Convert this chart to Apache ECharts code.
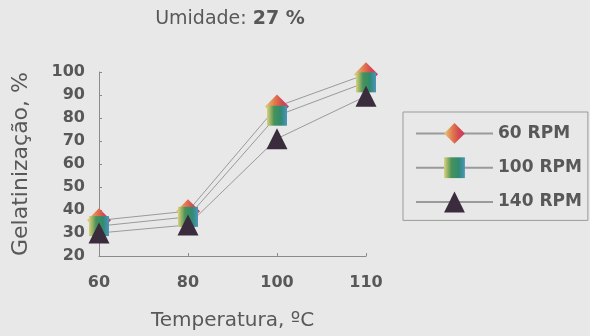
<!DOCTYPE html>
<html>
<head>
<meta charset="utf-8">
<script src="https://cdn.jsdelivr.net/npm/echarts@6/dist/echarts.min.js"></script>
<style>
  html, body { margin: 0; padding: 0; background: #e8e8e8; }
  #chart { width: 590px; height: 336px; }
</style>
</head>
<body>
<div id="chart"></div>
<script>
// Gelatinization vs. extrusion temperature at 27 % moisture
const temperatures = ['60', '80', '100', '110'];
const rpm60 = [35.5, 39.5, 85, 99];
const rpm100 = [33, 37, 81, 95.5];
const rpm140 = [30, 33.5, 71, 89.5];
const yTicks = { min: 20, max: 100, step: 10 };

const font = '"DejaVu Sans", Verdana, sans-serif';
const textColor = '#585858';

const diamondFill = new echarts.graphic.LinearGradient(0, 0, 1, 0, [
  { offset: 0, color: '#e9c878' },
  { offset: 0.4, color: '#e07a4e' },
  { offset: 0.7, color: '#d44a50' },
  { offset: 1, color: '#c83a66' }
]);
const squareFill = new echarts.graphic.LinearGradient(0, 0, 1, 0, [
  { offset: 0, color: '#dcd07a' },
  { offset: 0.35, color: '#4a9258' },
  { offset: 0.7, color: '#2f8a70' },
  { offset: 1, color: '#4c94bc' }
]);

function lineSeries(name, data, symbol, size, fill) {
  return {
    name: name,
    type: 'line',
    data: data,
    symbol: symbol,
    symbolSize: size,
    z: 3,
    lineStyle: { color: '#9a9a9a', width: 1 },
    itemStyle: { color: fill, borderWidth: 0 },
    emphasis: { disabled: true }
  };
}

const chart = echarts.init(document.getElementById('chart'));
chart.setOption({
  animation: false,
  backgroundColor: '#e8e8e8',
  title: {
    text: '{n|Umidade: }{b|27 %}',
    left: 225,
    textAlign: 'center',
    top: 5,
    textStyle: {
      rich: {
        n: { fontFamily: font, fontSize: 19, fontWeight: 'normal', color: textColor },
        b: { fontFamily: font, fontSize: 19, fontWeight: 'bold', color: textColor }
      }
    }
  },
  grid: { left: 99, right: 224, top: 72, bottom: 78 },
  xAxis: {
    type: 'category',
    data: temperatures,
    boundaryGap: false,
    name: 'Temperatura, ºC',
    nameLocation: 'middle',
    nameGap: 55,
    nameTextStyle: { fontFamily: font, fontSize: 20, color: textColor },
    axisLine: { lineStyle: { color: '#8a8a8a', width: 1 } },
    axisTick: { show: true, inside: true, length: 3, lineStyle: { color: '#8a8a8a' } },
    axisLabel: { margin: 19, fontFamily: font, fontSize: 16, fontWeight: 'bold', color: textColor },
    splitLine: { show: false }
  },
  yAxis: {
    type: 'value',
    min: yTicks.min,
    max: yTicks.max,
    interval: yTicks.step,
    name: 'Gelatinização, %',
    nameLocation: 'middle',
    nameRotate: 90,
    nameGap: 67,
    nameTextStyle: { fontFamily: font, fontSize: 22, color: textColor },
    axisLine: { show: true, lineStyle: { color: '#8a8a8a', width: 1 } },
    axisTick: { show: true, inside: true, length: 3, lineStyle: { color: '#8a8a8a' } },
    axisLabel: { margin: 14, fontFamily: font, fontSize: 16, fontWeight: 'bold', color: textColor },
    splitLine: { show: false }
  },
  legend: {
    orient: 'vertical',
    left: 403,
    top: 112,
    padding: [11, 6, 8, 12],
    itemGap: 13.5,
    itemWidth: 77,
    itemHeight: 26,
    borderColor: '#9a9a9a',
    borderWidth: 1,
    textStyle: { fontFamily: font, fontSize: 17, fontWeight: 'bold', color: textColor },
    data: ['60 RPM', '100 RPM', '140 RPM']
  },
  series: [
    lineSeries('60 RPM', rpm60, 'diamond', 24, diamondFill),
    lineSeries('100 RPM', rpm100, 'rect', 20, squareFill),
    lineSeries('140 RPM', rpm140, 'triangle', 21, '#3a2c3c')
  ]
});
</script>
</body>
</html>
